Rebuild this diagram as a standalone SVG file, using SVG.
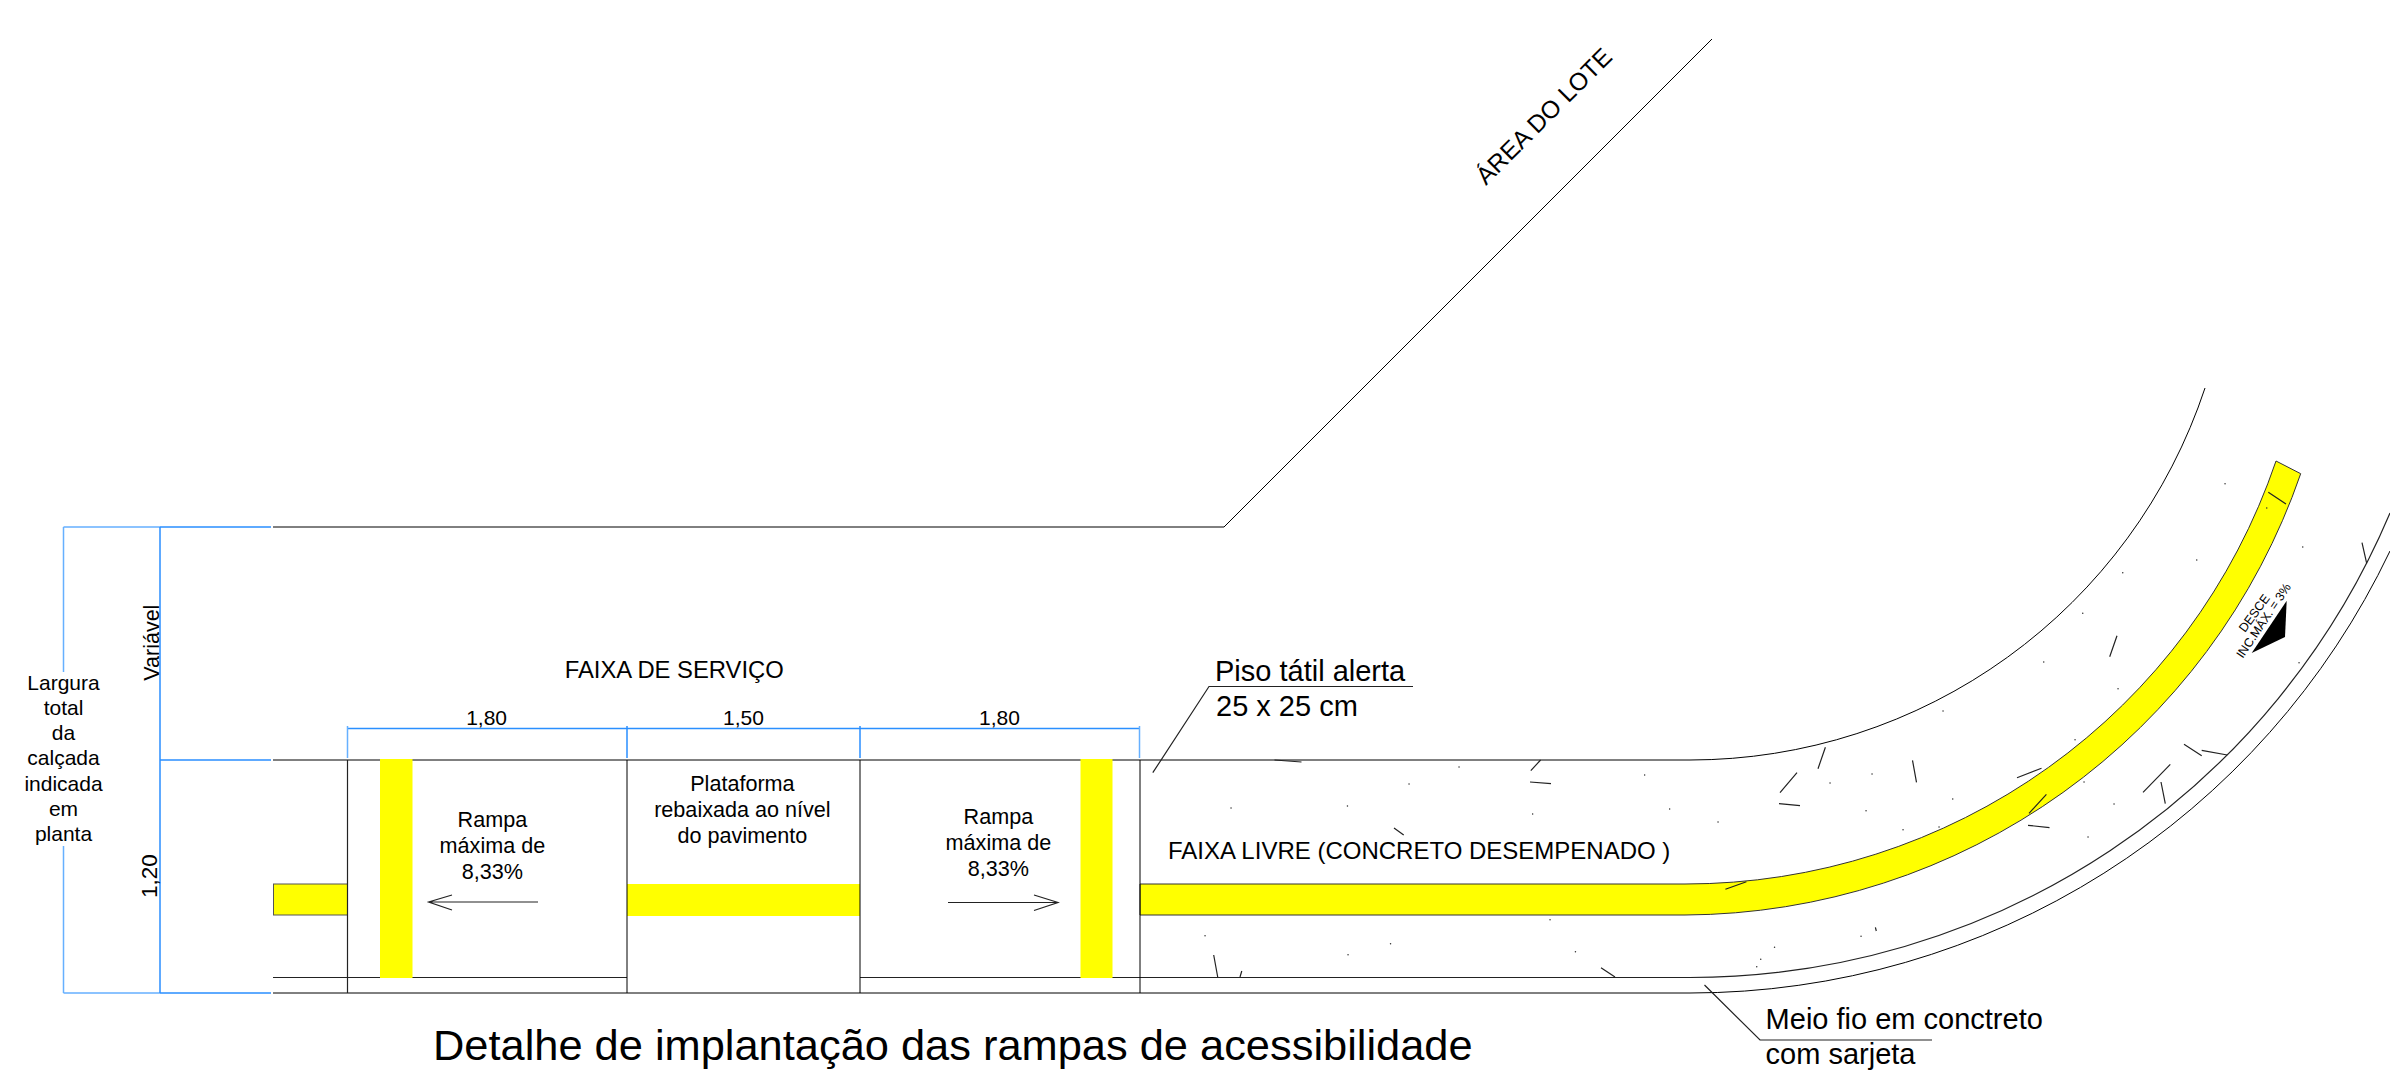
<svg xmlns="http://www.w3.org/2000/svg" width="2390" height="1081" viewBox="0 0 2390 1081">
<style>
text{font-family:"Liberation Sans",Arial,sans-serif;fill:#000}
.l{fill:none;stroke:#000;stroke-width:1}
.t{fill:none;stroke:#222;stroke-width:1.2}
.b{fill:none;stroke:#2a8fff;stroke-width:1.5}
.lb{fill:none;stroke:#66b0ff;stroke-width:1.5}
.y{fill:#ff0}
.m{text-anchor:middle}
.s21{font-size:21px}
.s22{font-size:21.6px}
.s29{font-size:29px}
.dots{fill:none;stroke:#333;stroke-width:1.4;stroke-linecap:round}
</style>
<rect width="2390" height="1081" fill="#fff"/>
<g id="yellow-bands">
<rect class="y" x="273.5" y="884" width="74" height="31" stroke="#555" stroke-width="1"/>
<rect class="y" x="627" y="884" width="233" height="32"/>
<path class="y" stroke="#333" stroke-width="1" d="M1140,884 H1685 A624 624 0 0 0 2276,461 L2300.7,473.7 A655 655 0 0 1 1685,915 H1140 Z"/>
</g>
<g id="linework">
<path class="l" d="M273,527 H1224 L1712,39"/>
<path class="l" d="M273,760 H1690 A543 543 0 0 0 2205,388"/>
<path class="t" d="M273,977.5 H627 M860,977.5 H1690 A760 760 0 0 0 2390,513"/>
<path class="l" d="M273,993 H1690 A775.7 775.7 0 0 0 2390,551"/>
<path class="t" d="M347.5,760 V993"/>
<path class="l" d="M627,760 V993 M860,760 V993 M1140,760 V993"/>
<path class="t" stroke-width="1" d="M428.6,902 H538 M452,895 L428.6,902 L452,910 M948,902.5 H1058 M1034,895 L1058,902.5 L1034,910.5"/>
<path class="t" d="M1152.8,772.7 L1209,686.5 H1413 M1704.5,985 L1760,1040 H1932"/>
</g>
<g id="ramps">
<rect class="y" x="380" y="759" width="32.5" height="219"/>
<rect class="y" x="1080.5" y="759" width="32" height="219"/>
</g>
<g id="texture">
<path class="t" d="M1274.5,760 L1301.5,762 M1394,828 L1403.7,835 M1213.7,955 L1217.7,977 M1241.8,971 L1240,977 M1540.6,760 L1530.8,770.7 M1530,782 L1551,783.7 M1825.4,747.3 L1818,768.7 M1797,772.7 L1780,792.7 M1779,803.7 L1800,805.7 M1912.5,760.3 L1916.5,782.3 M2041.5,768.3 L2017,777.7 M2046.4,794.3 L2029,813.3 M2028,825.3 L2049.5,827.7 M1746.4,881.7 L1725.4,889.3 M1875.4,927.3 L1876.3,931 M1601,967.7 L1615,977 M2117,635.7 L2109.7,656.7 M2268.3,492.3 L2286,504 M2362,542.7 L2366.7,563.3 M2184,744.3 L2201.7,755.7 M2201.7,750.3 L2227.3,755 M2170.3,764.3 L2143,792.3 M2161,782 L2165.3,803.7"/>
<path class="dots" d="M1459,767h.1 M1409,784h.1 M1231,808h.1 M1347.4,806h.1 M1205,935.7h.1 M1390.5,943.7h.1 M1348,954.7h.1 M1644.6,775h.1 M1669.6,809h.1 M1532.6,814h.1 M1718,822h.1 M1830,783h.1 M1872,774h.1 M1952.7,799h.1 M1866,810.7h.1 M1903,829.7h.1 M1939,827h.1 M1943,711h.1 M2043.7,662h.1 M2118,688.7h.1 M2075,739.7h.1 M2084,782h.1 M2114,804h.1 M2088,837h.1 M1550,919.7h.1 M1575.4,951.7h.1 M1774.5,947.3h.1 M1760.7,959.3h.1 M1756.7,966.7h.1 M1861,936.3h.1 M2225,483.7h.1 M2266.7,508h.1 M2302.7,547h.1 M2196.7,560h.1 M2122.7,572.7h.1 M2082.7,613.3h.1 M2299,662.7h.1"/>
<path id="slope-arrow" d="M2286.7,600.7 L2285,637 L2251.7,653 Z" fill="#000"/>
</g>
<g id="dimensions">
<path class="lb" d="M63.5,527 V672 M63.5,846 V993"/>
<path class="lb" d="M63.5,527 H160 M63.5,993 H160"/>
<path class="b" d="M160,527 V993 M160,527 H271 M160,760 H271 M160,993 H271"/>
<path class="b" d="M347.5,728.5 H1140"/>
<path class="lb" d="M347.5,726 V758 M1139.5,726 V758"/>
<path class="b" d="M627,726 V758 M860,726 V758"/>
</g>
<g id="labels">
<text class="m s21" x="63.5" y="689.6">Largura</text>
<text class="m s21" x="63.5" y="714.8">total</text>
<text class="m s21" x="63.5" y="740">da</text>
<text class="m s21" x="63.5" y="765">calçada</text>
<text class="m s21" x="63.5" y="790.5">indicada</text>
<text class="m s21" x="63.5" y="816">em</text>
<text class="m s21" x="63.5" y="841">planta</text>
<text font-size="21.5" transform="translate(158.5,680.7) rotate(-90)">Variável</text>
<text font-size="22.5" transform="translate(157,898) rotate(-90)">1,20</text>
<text font-size="23.8" x="564.7" y="678">FAIXA DE SERVIÇO</text>
<text class="m s21" x="486.6" y="725">1,80</text>
<text class="m s21" x="743.5" y="725">1,50</text>
<text class="m s21" x="999.5" y="725">1,80</text>
<text class="m s22" x="492.4" y="827">Rampa</text>
<text class="m s22" x="492.4" y="853">máxima de</text>
<text class="m s22" x="492.4" y="878.5">8,33%</text>
<text class="m s22" x="742.4" y="790.7">Plataforma</text>
<text class="m s22" x="742.4" y="816.7">rebaixada ao nível</text>
<text class="m s22" x="742.4" y="842.7">do pavimento</text>
<text class="m s22" x="998.4" y="824">Rampa</text>
<text class="m s22" x="998.4" y="850">máxima de</text>
<text class="m s22" x="998.4" y="875.7">8,33%</text>
<text class="s29" x="1215" y="680.7">Piso tátil alerta</text>
<text class="s29" x="1216" y="716">25 x 25 cm</text>
<text font-size="24" x="1168" y="859">FAIXA LIVRE (CONCRETO DESEMPENADO )</text>
<text class="s29" x="1765.6" y="1029">Meio fio em conctreto</text>
<text class="s29" x="1765.6" y="1064">com sarjeta</text>
<text font-size="43.4" x="433" y="1060">Detalhe de implantação das rampas de acessibilidade</text>
<text font-size="24.6" transform="translate(1486,186) rotate(-45)">ÁREA DO LOTE</text>
<text font-size="12.5" transform="translate(2245,633) rotate(-54)">DESCE</text>
<text font-size="12.4" transform="translate(2242.7,659) rotate(-56)">INC.MÁX. = 3%</text>
</g>
</svg>
